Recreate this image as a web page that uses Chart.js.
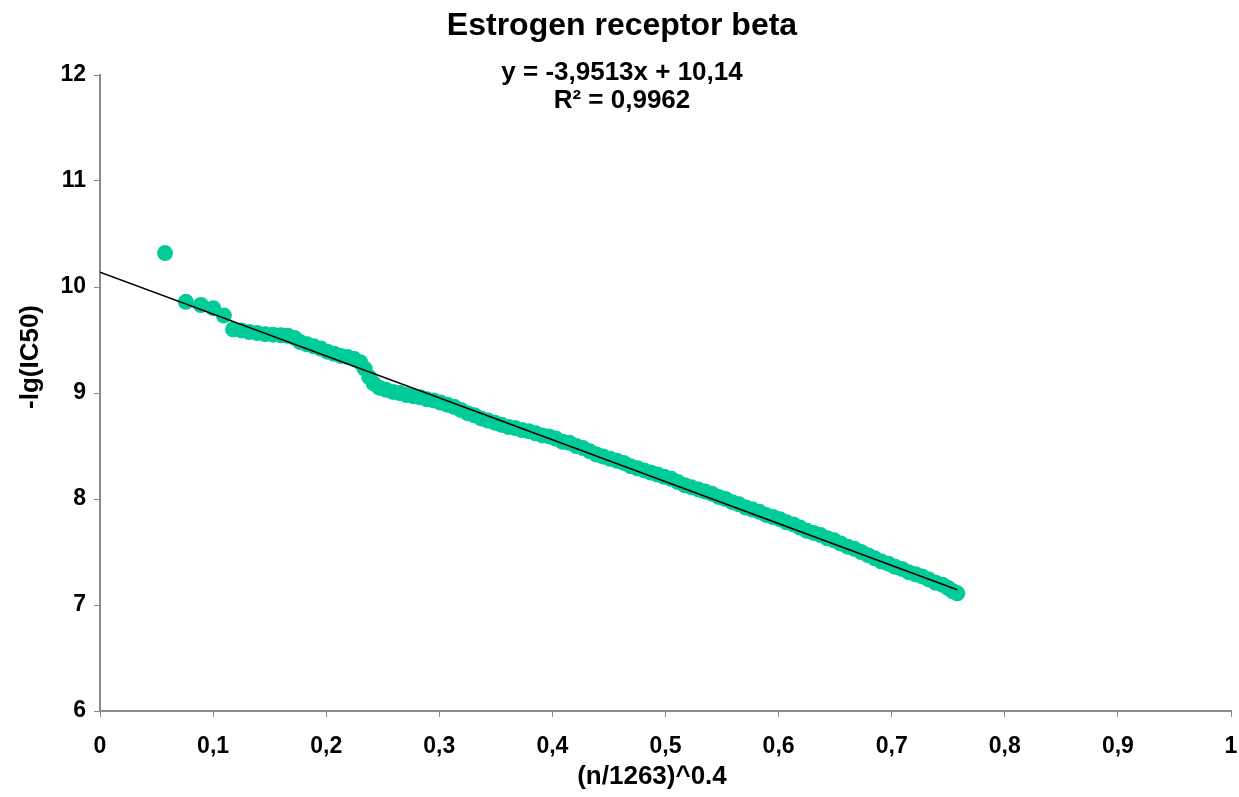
<!DOCTYPE html>
<html>
<head>
<meta charset="utf-8">
<title>Estrogen receptor beta</title>
<script src="https://cdn.jsdelivr.net/npm/chart.js@4.4.1/dist/chart.umd.min.js"></script>
<style>
  html, body { margin: 0; padding: 0; background: #fff; }
  canvas { display: block; }
</style>
</head>
<body>
<canvas id="erbChart" width="1239" height="797"></canvas>
<script>
// rank-transformed activity values, sorted from most to least potent
const rankX = [
  0.0575, 0.0759, 0.0892, 0.1001, 0.1095, 0.1177,
  0.125, 0.132, 0.139, 0.146, 0.153, 0.160, 0.166, 0.172, 0.177, 0.183,
  0.189, 0.195, 0.201, 0.207, 0.213, 0.219, 0.225, 0.230, 0.234, 0.238,
  0.242, 0.247, 0.253, 0.259, 0.265, 0.271, 0.277, 0.283, 0.289, 0.295,
  0.301, 0.307, 0.313, 0.319, 0.325, 0.331, 0.337, 0.343, 0.349, 0.355,
  0.361, 0.367, 0.373, 0.379, 0.385, 0.391, 0.397, 0.403, 0.409, 0.415,
  0.421, 0.427, 0.433, 0.439, 0.445, 0.451, 0.457, 0.463, 0.469, 0.475,
  0.481, 0.487, 0.493, 0.499, 0.505, 0.511, 0.517, 0.523, 0.529, 0.535,
  0.541, 0.547, 0.553, 0.559, 0.565, 0.571, 0.577, 0.583, 0.589, 0.595,
  0.601, 0.607, 0.613, 0.619, 0.625, 0.631, 0.637, 0.643, 0.649, 0.655,
  0.661, 0.667, 0.673, 0.679, 0.685, 0.691, 0.697, 0.703, 0.709, 0.715,
  0.721, 0.727, 0.733, 0.739, 0.745, 0.750, 0.754, 0.758
];
const pIC50 = [
  10.32, 9.86, 9.83, 9.80, 9.73, 9.60,
  9.59, 9.575, 9.565, 9.555, 9.55, 9.545, 9.54, 9.52, 9.48, 9.46,
  9.44, 9.42, 9.39, 9.37, 9.35, 9.34, 9.32, 9.29, 9.23, 9.15,
  9.09, 9.05, 9.03, 9.01, 9.00, 8.98, 8.97, 8.96, 8.94, 8.93,
  8.91, 8.89, 8.87, 8.84, 8.81, 8.79, 8.76, 8.74, 8.72, 8.70,
  8.68, 8.67, 8.65, 8.64, 8.62, 8.60, 8.59, 8.57, 8.54, 8.53,
  8.50, 8.48, 8.45, 8.42, 8.40, 8.38, 8.36, 8.34, 8.31, 8.29,
  8.27, 8.25, 8.23, 8.21, 8.19, 8.16, 8.13, 8.11, 8.09, 8.07,
  8.05, 8.02, 8.00, 7.97, 7.95, 7.92, 7.90, 7.88, 7.85, 7.83,
  7.81, 7.78, 7.76, 7.73, 7.70, 7.68, 7.66, 7.63, 7.61, 7.58,
  7.55, 7.53, 7.50, 7.47, 7.44, 7.41, 7.39, 7.36, 7.34, 7.31,
  7.29, 7.27, 7.24, 7.21, 7.19, 7.16, 7.13, 7.11
];

// linear fit reported on the chart
const fitSlope = -3.9513;
const fitIntercept = 10.14;
const fitLabel = ['y = -3,9513x + 10,14', 'R\u00b2 = 0,9962'];

const chartTitle = 'Estrogen receptor beta';
const xTitle = '(n/1263)^0.4';
const yTitle = '-lg(IC50)';

const axisGrey = '#8a8a8a';
const dotColour = '#00cc99';
const FONT = "'Liberation Sans', Arial, sans-serif";

Chart.defaults.font.family = FONT;
Chart.defaults.color = '#000';

const points = rankX.map((x, i) => ({ x: x, y: pIC50[i] }));
const lastX = rankX[rankX.length - 1];
const fitLine = [
  { x: 0, y: fitIntercept },
  { x: lastX, y: fitIntercept + fitSlope * lastX }
];

function commaNum(v) {
  return Number.isInteger(v) ? String(v) : v.toFixed(1).replace('.', ',');
}

// title, fit equation and axis titles drawn at fixed spots
const chartText = {
  id: 'chartText',
  afterDraw(chart) {
    const ctx = chart.ctx;
    ctx.save();
    ctx.fillStyle = '#000';
    ctx.textAlign = 'center';
    ctx.textBaseline = 'middle';
    ctx.font = 'bold 32px ' + FONT;
    ctx.fillText(chartTitle, 622, 26);
    ctx.font = 'bold 26px ' + FONT;
    ctx.fillText(fitLabel[0], 622, 73);
    ctx.fillText(fitLabel[1], 622, 101);
    ctx.font = 'bold 26px ' + FONT;
    ctx.fillText(xTitle, 652, 777);
    ctx.translate(31, 357);
    ctx.rotate(-Math.PI / 2);
    ctx.fillText(yTitle, 0, 0);
    ctx.restore();
  }
};

new Chart(document.getElementById('erbChart'), {
  type: 'scatter',
  data: {
    datasets: [
      {
        type: 'line',
        label: 'fit',
        data: fitLine,
        borderColor: '#000',
        borderWidth: 1.6,
        pointRadius: 0,
        fill: false,
        order: 0
      },
      {
        label: chartTitle,
        data: points,
        pointRadius: 8,
        pointHoverRadius: 8,
        pointBackgroundColor: dotColour,
        pointBorderWidth: 0,
        borderColor: dotColour,
        order: 1
      }
    ]
  },
  options: {
    responsive: false,
    animation: false,
    layout: { padding: { top: 75, right: 8, left: 0, bottom: 0 } },
    plugins: {
      legend: { display: false },
      tooltip: { enabled: false }
    },
    scales: {
      x: {
        type: 'linear',
        min: 0,
        max: 1,
        afterFit(scale) {
          scale.height = 86;
          scale.paddingLeft = 0;
          scale.paddingRight = 0;
        },
        ticks: {
          stepSize: 0.1,
          padding: 16,
          maxRotation: 0,
          font: { size: 23, weight: 'bold' },
          callback: v => commaNum(v)
        },
        grid: { drawOnChartArea: false, drawTicks: true, tickLength: 6, color: axisGrey },
        border: { display: true, color: axisGrey, width: 2 }
      },
      y: {
        min: 6,
        max: 12,
        afterFit(scale) {
          scale.width = 100;
          scale.paddingTop = 0;
          scale.paddingBottom = 0;
        },
        ticks: {
          stepSize: 1,
          padding: 8,
          font: { size: 23, weight: 'bold' }
        },
        grid: { drawOnChartArea: false, drawTicks: true, tickLength: 6, color: axisGrey },
        border: { display: true, color: axisGrey, width: 2 }
      }
    }
  },
  plugins: [chartText]
});
</script>
</body>
</html>
